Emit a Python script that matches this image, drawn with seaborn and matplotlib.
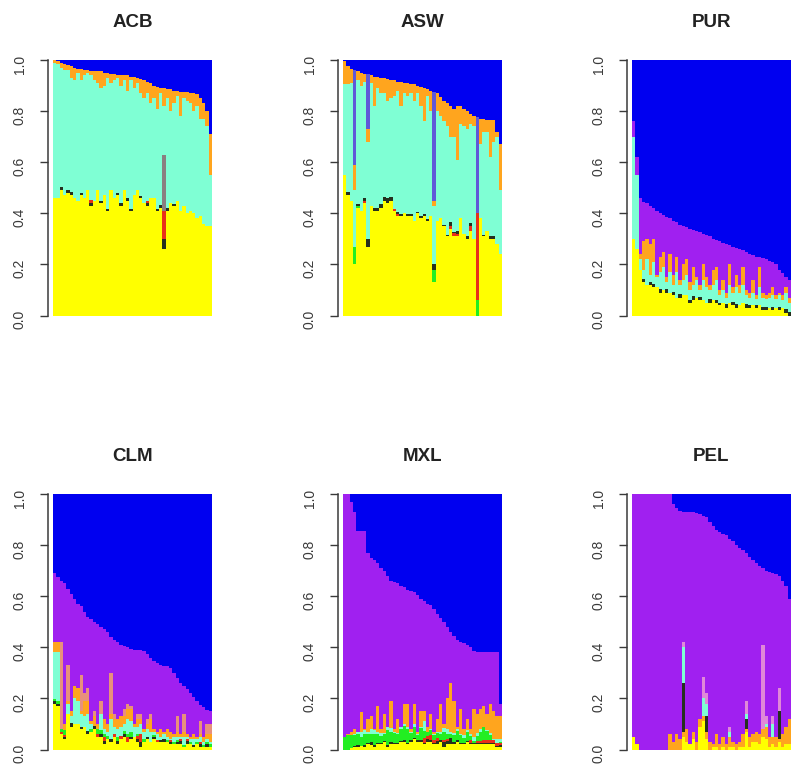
import numpy as np
import matplotlib
matplotlib.use("Agg")
import matplotlib.pyplot as plt
import seaborn as sns

# ---- ACB ----
ACB_orange = [1.0,.995,.99,.985,.98,.975,.97,.965,.965,.96,
 .96,.955,.955,.955,.955,.95,.95,.945,.945,.94,
 .94,.94,.94,.935,.935,.93,.925,.92,.915,.91,
 .90,.895,.89,.89,.885,.885,.88,.88,.875,.875,
 .875,.87,.87,.865,.85,.83,.80,.71]
ACB_teal = [.99,.985,.97,.96,.96,.93,.92,.95,.92,.94,
 .95,.94,.92,.91,.89,.90,.93,.91,.92,.93,
 .90,.92,.88,.92,.89,.91,.87,.85,.87,.83,
 .85,.81,.87,.82,.85,.80,.83,.86,.78,.85,
 .84,.83,.80,.82,.77,.77,.74,.55]
ACB_yellow = [.46,.46,.49,.47,.48,.47,.46,.45,.47,.46,
 .49,.43,.45,.49,.44,.47,.41,.49,.46,.47,
 .43,.49,.45,.41,.47,.49,.46,.44,.43,.46,
 .46,.41,.42,.26,.41,.44,.43,.45,.41,.43,
 .40,.41,.40,.38,.39,.36,.35,.35]
ACB_dark = [0,0,.012,0,.012,.015,0,0,.008,0,
 0,.012,0,0,.01,0,.008,0,0,.01,
 .01,0,.01,.008,0,0,.008,0,.01,0,
 0,.008,.012,.04,.012,0,.008,0,0,0,
 0,0,0,0,0,0,0,0]
ACB_red = [0,0,0,0,0,0,0,0,0,0,
 0,.012,0,0,0,0,0,0,0,0,
 0,0,0,0,0,0,0,0,.008,0,
 0,0,0,.11,0,0,0,0,0,0,
 0,0,0,0,0,0,0,0]
ACB_gray = [0,0,0,0,0,0,0,0,0,0,
 0,0,0,0,0,0,0,0,0,0,
 0,0,0,0,0,0,0,0,0,0,
 0,0,0,.22,0,0,0,0,0,0,
 0,0,0,0,0,0,0,0]

# ---- ASW ----
ASW_slate = [.995,.975,.965,.96,.955,.95,.945,.945,.94,.935,
 .935,.93,.93,.925,.92,.92,.915,.915,.91,.91,
 .905,.905,.90,.895,.89,.885,.88,.875,.87,.855,
 .84,.83,.82,.81,.82,.82,.81,.80,.79,.78,
 .775,.77,.77,.765,.765,.765,.72,.67]
ASW_orange = [.995,.975,.965,.59,.955,.95,.945,.73,.94,.935,
 .935,.93,.93,.925,.92,.92,.915,.915,.91,.91,
 .905,.905,.90,.895,.89,.885,.88,.45,.87,.855,
 .84,.83,.82,.81,.82,.82,.81,.80,.79,.78,
 .40,.77,.77,.765,.765,.765,.72,.67]
ASW_teal = [.905,.905,.91,.49,.92,.90,.915,.68,.91,.82,
 .89,.87,.87,.84,.85,.86,.88,.82,.87,.86,
 .87,.84,.87,.82,.76,.86,.80,.43,.80,.78,
 .76,.74,.70,.70,.61,.75,.74,.73,.75,.74,
 .40,.67,.72,.72,.62,.68,.70,.49]
ASW_yellow = [.55,.47,.45,.20,.42,.41,.44,.27,.43,.41,
 .41,.42,.45,.44,.45,.41,.39,.39,.40,.39,
 .39,.37,.40,.38,.39,.37,.39,.13,.37,.38,
 .35,.31,.34,.31,.31,.38,.32,.30,.33,.30,
 0,.38,.31,.33,.30,.30,.28,.24]
ASW_dark = [0,.012,0,0,.006,0,.012,.03,0,.012,
 .012,.015,.012,.018,.015,0,.008,.008,0,.008,
 .006,0,.006,.008,.006,.006,0,.02,0,0,
 .006,.006,.012,.006,.012,0,0,.012,.012,0,
 0,0,.006,0,.012,.012,0,0]
ASW_red = [0,0,0,0,0,0,.008,0,0,0,
 0,0,0,0,0,.008,.008,0,0,0,
 0,0,0,0,0,0,0,0,0,0,
 0,0,.012,.012,.008,0,0,0,.02,0,
 .34,0,0,0,0,0,0,0]
ASW_green = [0,0,0,.07,.01,0,0,0,0,0,
 0,0,0,0,0,0,0,0,0,0,
 0,0,0,0,0,0,0,.05,0,0,
 0,0,0,0,0,0,0,0,0,0,
 .06,0,0,0,0,0,0,0]

# ---- PUR ----
PUR_purple = [.76,.62,.46,.445,.44,.43,.42,.41,.40,.395,
 .385,.38,.37,.365,.355,.35,.345,.34,.335,.33,
 .325,.32,.315,.31,.30,.295,.29,.285,.28,.275,
 .27,.265,.26,.255,.25,.24,.235,.23,.23,.225,
 .22,.215,.21,.20,.18,.165,.15,.14]
PUR_orange = [.70,.55,.24,.29,.30,.28,.30,.16,.23,.25,
 .15,.24,.16,.23,.14,.20,.22,.13,.19,.15,
 .12,.20,.15,.12,.18,.19,.10,.14,.09,.20,
 .11,.16,.12,.19,.10,.09,.14,.08,.19,.09,
 .08,.09,.11,.08,.09,.08,.11,.07]
PUR_teal = [.70,.55,.22,.18,.22,.16,.21,.15,.17,.19,
 .13,.17,.12,.17,.12,.14,.16,.10,.12,.14,
 .10,.14,.11,.10,.12,.14,.08,.10,.07,.12,
 .09,.11,.09,.12,.08,.07,.09,.065,.11,.07,
 .065,.07,.08,.065,.08,.06,.09,.05]
PUR_yellow = [.30,.26,.18,.13,.12,.12,.11,.11,.09,.10,
 .09,.09,.08,.07,.07,.08,.08,.05,.06,.07,
 .06,.06,.05,.05,.06,.05,.04,.05,.03,.05,
 .04,.03,.04,.05,.03,.03,.04,.03,.04,.02,
 .02,.03,.02,.03,.02,.03,.01,0]
PUR_dark = [0,0,0,.012,0,.01,.012,0,.012,0,
 .012,0,.012,0,.015,0,0,.012,.015,0,
 .012,0,0,.015,0,.012,.01,0,.015,0,
 .012,.015,0,0,.015,.012,0,.012,0,.015,
 .012,0,.015,0,.015,0,.015,.012]

# ---- CLM ----
CLM_purple = [.69,.675,.66,.65,.63,.61,.59,.57,.56,.54,
 .52,.51,.50,.49,.48,.47,.46,.44,.43,.42,
 .41,.405,.40,.395,.39,.39,.39,.385,.375,.36,
 .345,.34,.33,.325,.325,.32,.30,.28,.26,.25,
 .235,.22,.205,.19,.175,.165,.155,.15]
CLM_salmon = [0,0,.42,0,.33,0,0,0,.29,.22,
 .24,0,.15,0,.19,0,0,.30,.14,0,
 0,.16,.18,.17,0,.14,.14,0,.12,.14,
 0,0,0,0,0,0,0,.13,0,.14,
 0,0,0,0,.11,0,.10,.10]
CLM_orange = [.42,.42,.08,.10,.19,.15,.25,.24,.15,.19,
 .19,.11,.13,.10,.14,.12,.10,.14,.12,.12,
 .13,.13,.16,.16,.10,.12,.12,.08,.10,.12,
 .08,.07,.08,.07,.08,.07,.06,.07,.06,.07,
 .06,.05,.06,.05,.06,.05,.06,.06]
CLM_teal = [.38,.38,.07,.07,.18,.13,.20,.19,.14,.13,
 .14,.10,.09,.08,.14,.08,.07,.12,.09,.08,
 .09,.10,.12,.11,.09,.09,.10,.07,.08,.07,
 .07,.06,.05,.06,.05,.04,.05,.05,.05,.05,
 .05,.04,.04,.04,.05,.03,.04,.03]
CLM_yellow = [.18,.17,.06,.04,.14,.09,.10,.10,.08,.09,
 .06,.07,.08,.05,.05,.02,.04,.03,.05,.02,
 .04,.05,.03,.04,.05,.03,.01,.03,.04,.03,
 .04,.03,.03,.03,.03,.02,.02,.02,.02,.01,
 .02,.02,.01,.02,.01,.01,.01,.01]
CLM_dark = [.008,.008,0,.008,0,.012,0,0,.008,0,
 .012,0,.012,0,.012,.015,0,.012,0,.012,
 0,.01,0,.01,0,.012,.02,0,.008,0,
 .01,0,.008,.012,0,.01,0,.008,.012,0,
 .012,0,.008,0,.012,0,.01,0]
CLM_red = [0,0,.01,.01,0,0,0,0,0,0,
 0,0,0,.01,0,.015,0,0,.012,0,
 .012,0,.02,0,0,.012,.03,0,0,0,
 0,.008,0,0,0,.008,0,0,.008,0,
 .008,0,0,0,.008,0,0,0]
CLM_green = [.01,.01,.01,.02,0,0,0,0,0,0,
 0,.01,0,.02,.015,.01,.012,0,0,.015,
 0,.012,.01,.02,0,.008,0,.012,0,0,
 .008,0,0,0,.008,0,.008,.008,0,.008,
 0,.008,0,.008,0,.008,.008,.012]

# ---- MXL ----
MXL_purple = [1.0,1.0,.97,.93,.855,.855,.855,.77,.75,.74,
 .73,.71,.70,.68,.66,.655,.65,.64,.635,.625,
 .62,.615,.605,.59,.58,.57,.565,.55,.53,.515,
 .50,.48,.46,.445,.43,.42,.415,.41,.40,.385,
 .38,.38,.38,.38,.38,.38,.38,.18]
MXL_orange = [.05,.06,.07,.08,.07,.145,.08,.12,.13,.08,
 .17,.08,.14,.09,.19,.08,.12,.09,.18,.18,
 .08,.18,.07,.15,.15,.09,.14,.07,.12,.18,
 .10,.20,.26,.19,.09,.16,.08,.12,.08,.16,
 .14,.16,.17,.14,.18,.15,.13,.13]
MXL_teal = [.05,.055,.055,.06,.07,.07,.075,.07,.08,.075,
 .07,.065,.065,.09,.085,.07,.065,.09,.10,.09,
 .07,.10,.06,.09,.11,.07,.08,.06,.07,.07,
 .085,.08,.07,.065,.08,.06,.055,.075,.06,.05,
 .065,.08,.09,.075,.065,.04,.04,.04]
MXL_yellow = [0,0,.005,.008,.01,.015,.01,.02,.018,.01,
 .02,.02,.028,.01,.02,.02,.02,.03,.03,.02,
 .03,.04,.03,.028,.02,.03,.03,.02,.02,.03,
 .01,.02,.02,.02,.03,.02,.02,.03,.02,.02,
 .02,.02,.02,.02,.02,.02,.01,.01]
MXL_dark = [0,0,0,.004,.006,0,.006,.006,.012,.006,
 .006,.004,.006,.006,.01,.004,.006,.004,.006,.006,
 .006,.004,.006,.01,.006,.012,.006,.006,.014,.006,
 .018,.012,.025,.008,.008,.006,.006,.004,.006,.004,
 .004,.004,.004,.004,.004,.004,.004,.006]
MXL_red = [0,0,0,0,0,0,0,0,0,0,
 0,0,0,0,0,0,0,0,0,0,
 0,0,0,0,.02,.01,.02,.01,.01,0,
 .01,.01,0,0,0,0,0,0,.01,0,
 .01,.01,.015,.015,.012,.012,.01,.01]
MXL_green = [.05,.055,.05,.045,.045,.035,.045,.035,.03,.045,
 .035,.03,.025,.06,.04,.04,.035,.045,.055,.055,
 .03,.045,.02,.045,.025,.015,.02,.02,.02,.025,
 .03,.02,.015,.03,.035,.03,.02,.035,.015,.01,
 .02,.035,.05,.035,.02,0,0,.005]

# ---- PEL ----
PEL_purple = [1,1,1,1,1,1,1,1,1,1,
 1,1,.96,.945,.935,.93,.93,.93,.93,.925,
 .92,.915,.91,.89,.875,.86,.85,.845,.84,.825,
 .815,.80,.79,.78,.77,.755,.74,.73,.72,.71,
 .70,.695,.69,.685,.68,.66,.64,.59]
PEL_pink = [0,0,0,0,0,0,0,0,0,0,
 0,0,0,0,0,.42,0,0,0,0,
 0,.285,.22,0,0,0,0,0,0,.09,
 0,0,0,0,.19,0,0,0,0,.41,
 .13,0,.13,0,.24,0,0,0]
PEL_teal = [0,0,0,0,0,0,0,0,0,0,
 0,0,0,0,0,.40,0,0,0,0,
 0,.20,.18,0,0,0,0,0,0,.07,
 0,0,0,0,.14,0,0,0,0,.04,
 .10,0,.10,0,.15,0,0,0]
PEL_dark = [0,0,0,0,0,0,0,0,0,0,
 0,0,0,0,0,.26,0,0,0,0,
 0,.13,.13,0,0,0,0,0,0,0,
 0,0,0,0,.12,0,0,0,0,0,
 0,0,0,0,.15,0,0,0]
PEL_orange = [.05,.02,0,0,0,0,0,0,0,0,
 0,.06,.03,.06,.04,.07,.08,.02,.07,.03,
 .12,.13,.07,.03,.02,.06,.02,.05,.02,.05,
 .03,.02,.03,.06,.08,.05,.06,.07,.06,.08,
 .09,.05,.05,.05,.04,.06,.09,.12]
PEL_yellow = [.05,.02,0,0,0,0,0,0,0,0,
 0,0,0,0,0,.05,.03,.02,.04,0,
 .09,.11,.04,0,.01,.01,0,.01,0,.01,
 .01,0,.01,.01,.07,.01,.03,.03,.02,.05,
 .04,.01,.02,.01,.03,.01,.02,.02]

BLUE, PURPLE, ORANGE = "#0000F0", "#A020F0", "#FFA51E"
TEAL, YELLOW, DARK = "#7FFFD4", "#FFFF00", "#26301E"
RED, GREEN, GRAY = "#E8301A", "#22EE22", "#8A7F80"
SLATE, PINK, SALMON = "#6058D8", "#E088D8", "#E8907C"

# Each panel: name, left/top pixel origin, cumulative layers (top-down),
# thin layers stacked on the yellow base, yellow base.
panels = [
 ("ACB", 53, 60, [(ACB_orange, ORANGE), (ACB_teal, TEAL)],
  [(ACB_dark, DARK), (ACB_red, RED), (ACB_gray, GRAY)], ACB_yellow),
 ("ASW", 343, 60, [(ASW_slate, SLATE), (ASW_orange, ORANGE), (ASW_teal, TEAL)],
  [(ASW_green, GREEN), (ASW_red, RED), (ASW_dark, DARK)], ASW_yellow),
 ("PUR", 632, 60, [(PUR_purple, PURPLE), (PUR_orange, ORANGE), (PUR_teal, TEAL)],
  [(PUR_dark, DARK)], PUR_yellow),
 ("CLM", 53, 494, [(CLM_purple, PURPLE), (CLM_salmon, SALMON), (CLM_orange, ORANGE), (CLM_teal, TEAL)],
  [(CLM_dark, DARK), (CLM_red, RED), (CLM_green, GREEN)], CLM_yellow),
 ("MXL", 343, 494, [(MXL_purple, PURPLE), (MXL_orange, ORANGE), (MXL_teal, TEAL)],
  [(MXL_dark, DARK), (MXL_red, RED), (MXL_green, GREEN)], MXL_yellow),
 ("PEL", 632, 494, [(PEL_purple, PURPLE), (PEL_pink, PINK), (PEL_teal, TEAL), (PEL_dark, DARK),
                    (PEL_orange, ORANGE)], [], PEL_yellow),
]

sns.set_theme(style="white")
plt.rcParams["font.family"] = ["Liberation Sans", "DejaVu Sans"]
W, H = 800, 774
fig = plt.figure(figsize=(W / 100, H / 100), dpi=100, facecolor="white")
TEXT = "#3A3A3A"

def bars(ax, heights, color):
    x = np.arange(len(heights))
    sns.barplot(x=x, y=np.asarray(heights, float), color=color, saturation=1, width=1.0,
                linewidth=0, antialiased=False, ax=ax, legend=False)

for name, px, py, upper, thin, yellow in panels:
    ax = fig.add_axes([px / W, 1 - (py + 255.5) / H, 159 / W, 255.5 / H])
    n = len(yellow)
    bars(ax, np.ones(n), BLUE)
    for arr, col in upper:
        bars(ax, arr, col)
    tops = []
    base = np.asarray(yellow, float)
    for arr, col in thin:
        base = base + np.asarray(arr, float)
        tops.append((base, col))
    for top, col in reversed(tops):
        bars(ax, top, col)
    bars(ax, yellow, YELLOW)

    ax.set_xlim(-0.5, n - 0.5)
    ax.set_ylim(0, 1)
    ax.set_xlabel("")
    ax.set_ylabel("")
    ax.set_xticks([])
    ax.set_yticks([0, .2, .4, .6, .8, 1.0])
    ax.set_yticklabels(["0.0", "0.2", "0.4", "0.6", "0.8", "1.0"])
    ax.tick_params(axis="y", left=True, length=5.8, width=1.0, color=TEXT, pad=9.5,
                   labelsize=10, labelcolor=TEXT, labelrotation=90)
    for lab in ax.get_yticklabels():
        lab.set(ha="center", va="baseline", rotation_mode="anchor")
    for s in ("top", "right", "bottom"):
        ax.spines[s].set_visible(False)
    ax.spines["left"].set_position(("outward", 3.6))
    ax.spines["left"].set_bounds(0, 1)
    ax.spines["left"].set_color(TEXT)
    ax.spines["left"].set_linewidth(1.1)
    ax.grid(False)
    fig.text((px + 79.5) / W, 1 - (py - 37.5) / H, name, ha="center", va="center",
             fontsize=13.5, fontweight="bold", color="#222222")

fig.savefig("out.png", dpi=100, facecolor="white")
